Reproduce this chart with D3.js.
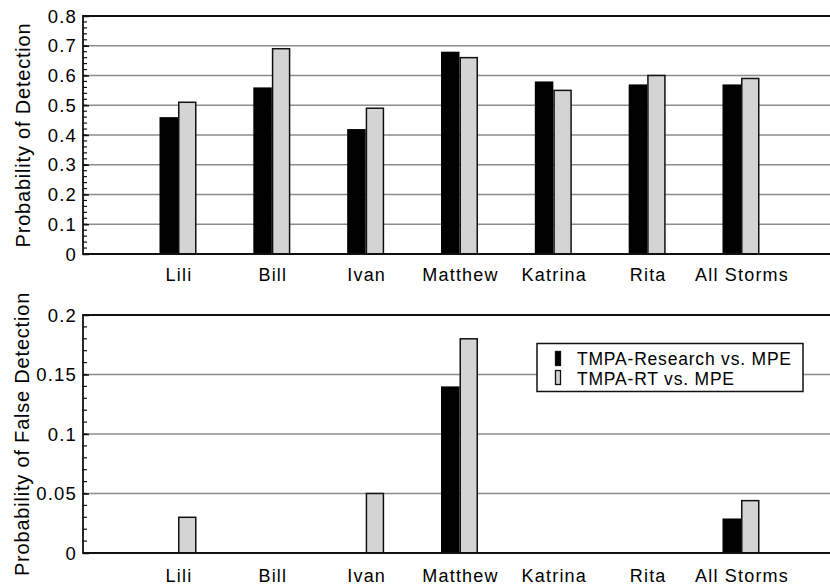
<!DOCTYPE html>
<html>
<head>
<meta charset="utf-8">
<script src="https://cdn.jsdelivr.net/npm/d3@7"></script>
<style>
  html, body { margin: 0; padding: 0; background: #fff; }
  svg { display: block; }
  text { font-family: "Liberation Sans", Arial, Helvetica, sans-serif; fill: #000; }
</style>
</head>
<body>
<svg id="chart" width="830" height="588"></svg>
<script>
// ---- data ----
const categories = ["Lili", "Bill", "Ivan", "Matthew", "Katrina", "Rita", "All Storms"];
const seriesNames = ["TMPA-Research vs. MPE", "TMPA-RT vs. MPE"];
const podResearch = [0.46, 0.56, 0.42, 0.68, 0.58, 0.57, 0.57];
const podRT       = [0.51, 0.69, 0.49, 0.66, 0.55, 0.60, 0.59];
const pofdResearch = [0, 0, 0, 0.14, 0, 0, 0.029];
const pofdRT       = [0.03, 0, 0.05, 0.18, 0, 0, 0.044];
const podTicks  = [0, 0.1, 0.2, 0.3, 0.4, 0.5, 0.6, 0.7, 0.8];
const pofdTicks = [0, 0.05, 0.1, 0.15, 0.2];
const podTitle  = "Probability of Detection";
const pofdTitle = "Probability of False Detection";

const svg = d3.select("#chart");
const colors = ["#000000", "#d4d4d4"];

const xLeft = 83, xRight = 840;
const x = d3.scalePoint().domain(categories).range([178, 741]);
const barW = 18.5;

function panel(cfg) {
  const g = svg.append("g");
  const y = d3.scaleLinear().domain([0, cfg.max]).range([cfg.bottom, cfg.top]);

  // gridlines
  g.selectAll("line.grid").data(cfg.ticks.filter(t => t > 0 && t < cfg.max)).enter()
    .append("line")
    .attr("x1", xLeft).attr("x2", xRight)
    .attr("y1", d => y(d)).attr("y2", d => y(d))
    .attr("stroke", "#8c8c8c").attr("stroke-width", 1.5);

  // top border
  g.append("line").attr("x1", xLeft).attr("x2", xRight)
    .attr("y1", y(cfg.max)).attr("y2", y(cfg.max))
    .attr("stroke", "#111").attr("stroke-width", 2);

  if (cfg.legend) cfg.legend(g);

  // bars
  const data = categories.map((c, i) => ({c, a: cfg.a[i], b: cfg.b[i]}));
  g.selectAll("rect.a").data(data.filter(d => d.a > 0)).enter()
    .append("rect")
    .attr("x", d => x(d.c) - barW).attr("width", barW)
    .attr("y", d => y(d.a)).attr("height", d => y(0) - y(d.a))
    .attr("fill", colors[0]);
  g.selectAll("rect.b").data(data.filter(d => d.b > 0)).enter()
    .append("rect")
    .attr("x", d => x(d.c) + 0.75).attr("width", barW - 1.5)
    .attr("y", d => y(d.b)).attr("height", d => y(0) - y(d.b))
    .attr("fill", colors[1]).attr("stroke", "#111").attr("stroke-width", 1.5);

  // left axis with inward ticks
  const yAxis = d3.axisRight(y).tickValues(cfg.ticks).tickSize(6).tickFormat("");
  const ax = g.append("g").attr("transform", `translate(${xLeft},0)`).call(yAxis);
  ax.select(".domain").remove();
  ax.selectAll("line").attr("stroke", "#111").attr("stroke-width", 1.5);
  const minor = d3.range(0, cfg.max + 1e-9, cfg.minor);
  g.selectAll("line.minor").data(minor).enter().append("line")
    .attr("x1", xLeft).attr("x2", xLeft + 4)
    .attr("y1", d => y(d)).attr("y2", d => y(d))
    .attr("stroke", "#111").attr("stroke-width", 1.2);
  g.append("line").attr("x1", xLeft).attr("x2", xLeft)
    .attr("y1", y(cfg.max) - 1).attr("y2", y(0) + 1)
    .attr("stroke", "#111").attr("stroke-width", 1.8);

  // tick labels
  g.selectAll("text.tick").data(cfg.ticks).enter().append("text")
    .attr("x", 77).attr("y", d => y(d)).attr("dy", "0.36em")
    .attr("text-anchor", "end")
    .style("font-size", "18.5px").style("letter-spacing", "1.2px")
    .text(d => d3.format("")(d));

  // bottom axis line
  g.append("line").attr("x1", xLeft).attr("x2", xRight)
    .attr("y1", y(0)).attr("y2", y(0))
    .attr("stroke", "#111").attr("stroke-width", 2);

  // category labels
  g.selectAll("text.cat").data(categories).enter().append("text")
    .attr("x", d => x(d) + 1).attr("y", cfg.labelY)
    .attr("text-anchor", "middle")
    .style("font-size", "18px").style("letter-spacing", "1.2px")
    .text(d => d);

  // y title
  g.append("text")
    .attr("transform", `translate(${cfg.titleX},${(cfg.top + cfg.bottom) / 2}) rotate(-90)`)
    .attr("text-anchor", "middle")
    .style("font-size", "20px").style("letter-spacing", "0.8px")
    .text(cfg.title);
}

panel({top: 16, bottom: 254, max: 0.8, ticks: podTicks, minor: 0.02,
       a: podResearch, b: podRT, labelY: 281, titleX: 30, title: podTitle});

panel({top: 315, bottom: 553, max: 0.2, ticks: pofdTicks, minor: 0.01,
       a: pofdResearch, b: pofdRT, labelY: 582, titleX: 29, title: pofdTitle,
       legend: g => {
         const lg = g.append("g");
         lg.append("rect").attr("x", 537).attr("y", 343.5).attr("width", 266).attr("height", 48)
           .attr("fill", "#fff").attr("stroke", "#111").attr("stroke-width", 1.5);
         seriesNames.forEach((s, i) => {
           lg.append("rect").attr("x", 555.5).attr("y", 351.5 + i * 19).attr("width", 5).attr("height", 14)
             .attr("fill", colors[i]).attr("stroke", "#111").attr("stroke-width", 1.3);
           lg.append("text").attr("x", 577).attr("y", 365 + i * 20)
             .style("font-size", "17.5px").style("letter-spacing", "0.8px")
             .text(s);
         });
       }});
</script>
</body>
</html>
